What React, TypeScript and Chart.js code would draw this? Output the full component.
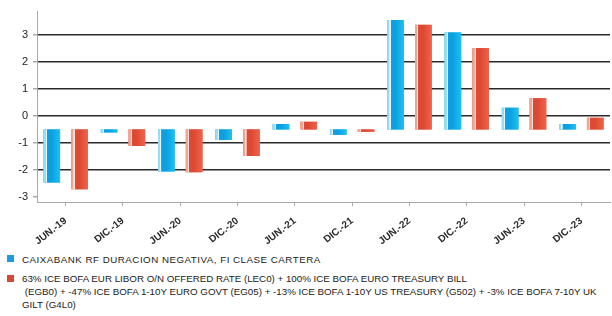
import React, { useEffect, useRef } from "react";
import { Chart, registerables } from "chart.js";

Chart.register(...registerables);

const categories = ["JUN.-19", "DIC.-19", "JUN.-20", "DIC.-20", "JUN.-21", "DIC.-21", "JUN.-22", "DIC.-22", "JUN.-23", "DIC.-23"];
const fundValues = [-2.46, -0.61, -2.05, -0.89, -0.3, -0.7, 3.54, 3.08, 0.3, -0.3];
const benchValues = [-2.71, -1.11, -2.08, -1.48, -0.22, -0.59, 3.36, 2.5, 0.65, -0.07];
const BASE = -0.5;
const yTicks = [-3, -2, -1, 0, 1, 2, 3];
const fundLabel = ["CAIXABANK RF DURACION NEGATIVA, FI CLASE CARTERA"];
const benchLabel = [
  "63% ICE BOFA EUR LIBOR O/N OFFERED RATE (LEC0) + 100% ICE BOFA EURO TREASURY BILL",
  " (EGB0) + -47% ICE BOFA 1-10Y EURO GOVT (EG05) + -13% ICE BOFA 1-10Y US TREASURY (G502) + -3% ICE BOFA 7-10Y UK",
  "GILT (G4L0)",
];

const FONT = "'Liberation Sans', Arial, sans-serif";

const shadePlugin = {
  id: "shade",
  afterDatasetsDraw(chart: any) {
    const ctx = chart.ctx;
    const palettes = [
      ["#9adcf6", "#e6f7fd", "#0d9fe0", "#1cc2f2"],
      ["#f2a595", "#fbe3de", "#dc4a34", "#f2624a"],
    ];
    chart.data.datasets.forEach((_: any, di: number) => {
      const meta = chart.getDatasetMeta(di);
      const p = palettes[di];
      meta.data.forEach((el: any) => {
        const left = el.x - el.width / 2;
        const top = Math.min(el.y, el.base);
        const h = Math.abs(el.base - el.y);
        const g = ctx.createLinearGradient(left, 0, left + el.width, 0);
        g.addColorStop(0, p[0]);
        g.addColorStop(0.13, p[0]);
        g.addColorStop(0.14, p[1]);
        g.addColorStop(0.2, p[1]);
        g.addColorStop(0.21, p[2]);
        g.addColorStop(0.5, p[2]);
        g.addColorStop(1, p[3]);
        ctx.save();
        ctx.fillStyle = g;
        ctx.fillRect(left, top, el.width, h);
        ctx.restore();
      });
    });
  },
};

export default function App() {
  const ref = useRef<HTMLCanvasElement>(null);
  useEffect(() => {
    if (!ref.current) return;
    const chart = new Chart(ref.current, {
      type: "bar",
      data: {
        labels: categories,
        datasets: [
          { label: fundLabel.join(" "), data: fundValues.map((v) => [BASE, v]) as any, backgroundColor: "#12a9e4", categoryPercentage: 0.97, barPercentage: 0.6 },
          { label: benchLabel.join(" "), data: benchValues.map((v) => [BASE, v]) as any, backgroundColor: "#e0503a", categoryPercentage: 0.97, barPercentage: 0.6 },
        ],
      },
      options: {
        animation: false,
        responsive: false,
        devicePixelRatio: 1,
        layout: { padding: { top: 10, right: 2, left: 0, bottom: 0 } },
        plugins: { legend: { display: false }, tooltip: { enabled: false } },
        scales: {
          x: {
            offset: true,
            grid: { drawOnChartArea: false, drawTicks: true, offset: false, tickLength: 4, color: "#aaa" },
            border: { display: true, color: "#aaa", width: 1 },
            ticks: { maxRotation: 38, minRotation: 38, autoSkip: false, padding: 9, color: "#2a2a2a", font: { family: FONT, size: 10, weight: "bold" } },
            afterFit: (s: any) => { s.height = 48; },
          },
          y: {
            min: -3.18,
            max: 3.85,
            afterBuildTicks: (s: any) => { s.ticks = yTicks.map((v) => ({ value: v })); },
            grid: {
              color: (c: any) => (c.tick && c.tick.value === -3 ? "rgba(0,0,0,0)" : "#2a2a2a"),
              lineWidth: 1.5,
              tickColor: "#aaa",
              tickLength: 4,
            },
            border: { display: true, color: "#aaa", width: 1 },
            ticks: { padding: 5, color: "#222", font: { family: FONT, size: 11 } },
            afterFit: (s: any) => { s.width = 37; },
          },
        },
      },
      plugins: [shadePlugin],
    });
    return () => chart.destroy();
  }, []);

  const textStyle: React.CSSProperties = { position: "absolute", left: 22, fontFamily: FONT, fontSize: 9.75, lineHeight: "13px", color: "#222", whiteSpace: "pre" };
  return (
    <div style={{ position: "fixed", left: 0, top: 0, width: 612, height: 316, background: "#fff" }}>
      <canvas ref={ref} width={612} height={250} style={{ position: "absolute", left: 0, top: 0 }} />
      <div style={{ position: "absolute", left: 7, top: 255, width: 7, height: 7, background: "#1e9be0" }} />
      <div style={{ ...textStyle, top: 253, letterSpacing: "0.5px" }}>{fundLabel.map((l, i) => <div key={i}>{l}</div>)}</div>
      <div style={{ position: "absolute", left: 7, top: 275, width: 7, height: 7, background: "#d54a33" }} />
      <div style={{ ...textStyle, top: 272 }}>{benchLabel.map((l, i) => <div key={i}>{l}</div>)}</div>
    </div>
  );
}
